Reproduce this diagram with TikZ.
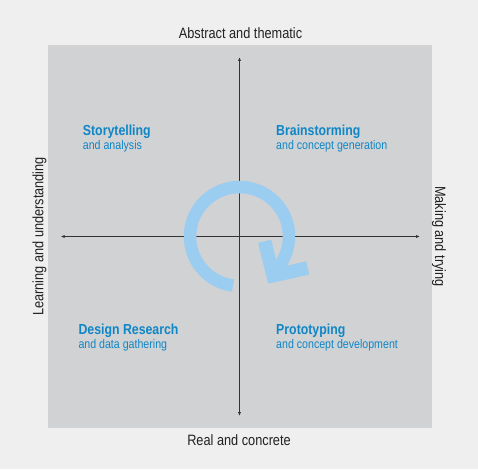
\documentclass[tikz,border=0pt]{standalone}
\usepackage{fontspec}
\setmainfont{Liberation Sans}[FakeStretch=0.85]
\usetikzlibrary{arrows.meta}
\definecolor{outerbg}{HTML}{EFEFEF}
\definecolor{innerbg}{HTML}{D1D2D4}
\definecolor{headblue}{HTML}{0F86C6}
\definecolor{ringblue}{HTML}{9ACDF0}
\definecolor{axisgray}{HTML}{333333}
\definecolor{labelgray}{HTML}{222222}
\begin{document}
\begin{tikzpicture}[x=1pt,y=1pt,
  axis/.style={draw=axisgray,line width=1.2pt,{Latex[length=4pt,width=3.2pt]}-{Latex[length=4pt,width=3.2pt]}},
  axislabel/.style={font=\fontsize{15}{18}\selectfont,text=labelgray,inner sep=0pt,anchor=base},
  head/.style={font=\bfseries\fontsize{14.5}{17}\selectfont,text=headblue,inner sep=0pt,anchor=base west},
  sub/.style={font=\fontsize{12.5}{15}\selectfont,text=headblue,inner sep=0pt,anchor=base west},
  ring/.style={draw=ringblue,line width=12.5pt,line cap=butt},
  chevron/.style={draw=ringblue,line width=13.5pt,line cap=butt,line join=miter}]
\useasboundingbox (0,0) rectangle (478,469);
\fill[outerbg] (0,0) rectangle (478,469);
\fill[innerbg] (48,40.7) rectangle (431.5,424);
% axes
\coordinate (center) at (239.5,232.5);
\coordinate (top) at (239.5,412);
\coordinate (bottom) at (239.5,53);
\coordinate (left) at (60.7,232.5);
\coordinate (right) at (420,232.5);
\draw[axis] (bottom) -- (top);
\draw[axis] (left) -- (right);
% cycle arrow
\coordinate (ringstart) at ([shift={(262.5:49.5)}]center);
\draw[ring] (ringstart) arc[start angle=262.5,end angle=-47,radius=49.5];
\coordinate (e1) at (264.7,227.7);
\coordinate (c) at (273.1,193.4);
\coordinate (e2) at (307.7,201);
\draw[chevron] (e1) -- (c) -- (e2);
% axis labels
\node[axislabel] (abstract) at (240.5,430) {Abstract and thematic};
\node[axislabel] (real) at (239,23.3) {Real and concrete};
\node[axislabel,rotate=90] (learning) at (43.3,232.5) {Learning and understanding};
\node[axislabel,rotate=-90] (making) at (435,232.5) {Making and trying};
% quadrant labels
\node[head] (story) at (82.7,333) {Storytelling};
\node[sub] (storysub) at (82.7,319.3) {and analysis};
\node[head] (brain) at (276,333) {Brainstorming};
\node[sub] (brainsub) at (276,319.3) {and concept generation};
\node[head] (design) at (78.3,135) {Design Research};
\node[sub] (designsub) at (78.3,120.7) {and data gathering};
\node[head] (proto) at (276,135) {Prototyping};
\node[sub] (protosub) at (276,120.7) {and concept development};
\end{tikzpicture}
\end{document}
